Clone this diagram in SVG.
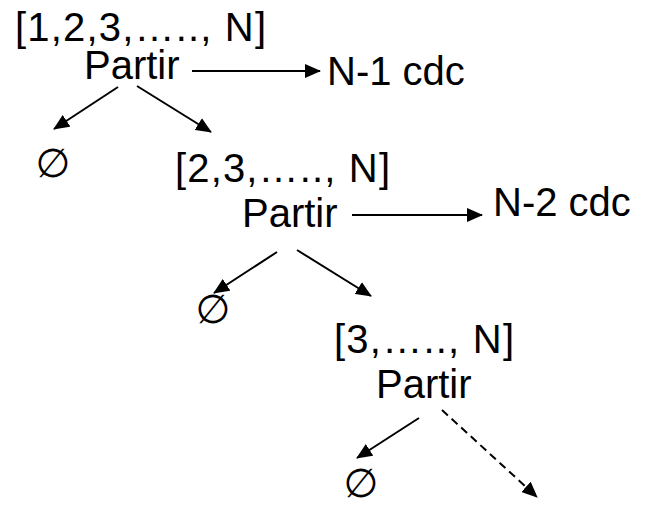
<svg xmlns="http://www.w3.org/2000/svg" width="648" height="507" viewBox="0 0 648 507">
  <style>
    .t { font-family: "Liberation Sans", Arial, sans-serif; font-size: 40px; fill: #000; }
    .e { font-family: "Liberation Sans", "DejaVu Sans", sans-serif; font-size: 40px; fill: #000; text-anchor: middle; }
    .c { stroke: #000; stroke-width: 2; fill: none; marker-end: url(#ah); }
    .d { stroke-dasharray: 8 5; }
  </style>
  <defs>
    <marker id="ah" viewBox="0 0 16 14" refX="15" refY="7" markerWidth="16" markerHeight="14" markerUnits="userSpaceOnUse" orient="auto">
      <path d="M0,0 L16,7 L0,14 Z" fill="#000"/>
    </marker>
  </defs>
  <rect width="648" height="507" fill="#fff"/>

  <!-- first split -->
  <g id="n1">
    <text class="t" x="15" y="41" textLength="251" lengthAdjust="spacing">[1,2,3,….., N]</text>
    <text class="t" x="84" y="79">Partir</text>
  </g>
  <g id="cost1"><text class="t" x="327" y="85">N-1 cdc</text></g>
  <g id="empty1"><text class="e" x="53" y="177">∅</text></g>

  <!-- second split -->
  <g id="n2">
    <text class="t" x="175" y="182" textLength="215" lengthAdjust="spacing">[2,3,….., N]</text>
    <text class="t" x="242" y="227">Partir</text>
  </g>
  <g id="cost2"><text class="t" x="493" y="216">N-2 cdc</text></g>
  <g id="empty2"><text class="e" x="213" y="323">∅</text></g>

  <!-- third split -->
  <g id="n3">
    <text class="t" x="334" y="353" textLength="180" lengthAdjust="spacing">[3,….., N]</text>
    <text class="t" x="376" y="398">Partir</text>
  </g>
  <g id="empty3"><text class="e" x="361" y="497">∅</text></g>

  <g id="connectors">
    <line class="c" x1="192" y1="71" x2="320" y2="71"/>
    <line class="c" x1="118" y1="87" x2="54" y2="129"/>
    <line class="c" x1="137" y1="86" x2="211" y2="132"/>
    <line class="c" x1="352" y1="215" x2="482" y2="215"/>
    <line class="c" x1="277" y1="252" x2="214" y2="293"/>
    <line class="c" x1="297" y1="250" x2="371" y2="296"/>
    <line class="c" x1="419" y1="418" x2="357" y2="458"/>
    <line class="c d" x1="442" y1="410" x2="537" y2="497"/>
  </g>
</svg>
